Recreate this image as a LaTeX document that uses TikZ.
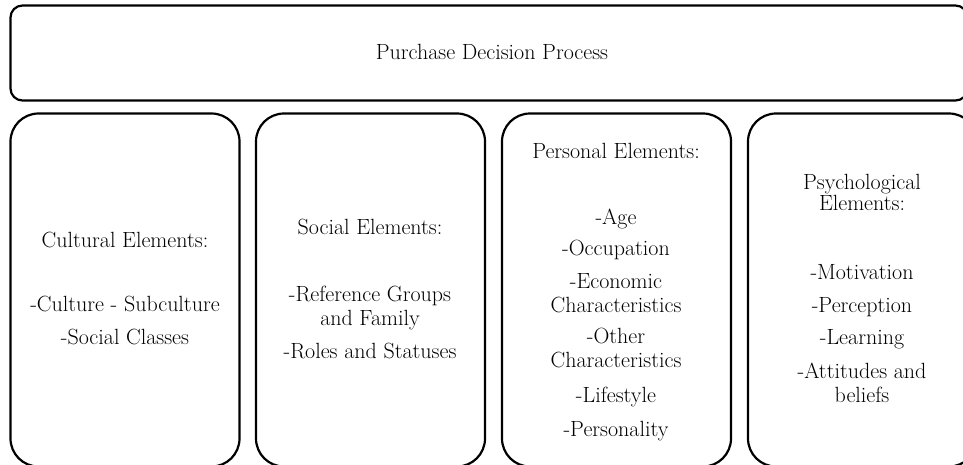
\documentclass[tikz,border=0pt]{standalone}
\usepackage{tikz}

\tikzset{
  mainbox/.style = {draw, line width=2.2pt, rounded corners=12pt, minimum width=957pt, minimum height=95pt, inner sep=0pt},
  elembox/.style = {draw, line width=2.2pt, rounded corners=28pt, minimum width=229pt, minimum height=353pt, inner sep=0pt},
  elemtext/.style = {inner sep=0pt, text height=15pt, text depth=5pt, font=\fontsize{22}{25}\selectfont}
}

\begin{document}
\begin{tikzpicture}[x=1pt, y=-1pt]
        \useasboundingbox (0,0) rectangle (963,464);
        % top box
        \node[mainbox] (process) at (489,53) {};
        \node[elemtext] (processtxt) at (492,54) {Purchase Decision Process};
        % four element boxes
        \node[elembox] (cultural) at (125,290) {};
        \node[elembox] (social) at (370.5,290) {};
        \node[elembox] (personal) at (616.5,290) {};
        \node[elembox] (psych) at (862.5,290) {};
        % cultural
        \node[elemtext] (cul1) at (125,242) {Cultural Elements:};
        \node[elemtext] (cul2) at (125,306) {-Culture - Subculture};
        \node[elemtext] (cul3) at (125,339) {-Social Classes};
        % social
        \node[elemtext] (soc1) at (370,229) {Social Elements:};
        \node[elemtext] (soc2) at (370,296) {-Reference Groups};
        \node[elemtext] (soc3) at (370,320) {and Family};
        \node[elemtext] (soc4) at (370,353) {-Roles and Statuses};
        % personal
        \node[elemtext] (per1) at (616,153) {Personal Elements:};
        \node[elemtext] (per2) at (616,219) {-Age};
        \node[elemtext] (per3) at (616,250) {-Occupation};
        \node[elemtext] (per4) at (616,283) {-Economic};
        \node[elemtext] (per5) at (616,307) {Characteristics};
        \node[elemtext] (per6) at (616,338) {-Other};
        \node[elemtext] (per7) at (616,362) {Characteristics};
        \node[elemtext] (per8) at (616,397) {-Lifestyle};
        \node[elemtext] (per9) at (616,431) {-Personality};
        % psychological
        \node[elemtext] (psy1) at (862,184) {Psychological};
        \node[elemtext] (psy2) at (862,205) {Elements:};
        \node[elemtext] (psy3) at (862,274) {-Motivation};
        \node[elemtext] (psy4) at (862,307) {-Perception};
        \node[elemtext] (psy5) at (862,339) {-Learning};
        \node[elemtext] (psy6) at (862,373) {-Attitudes and};
        \node[elemtext] (psy7) at (862,397) {beliefs};
\end{tikzpicture}
\end{document}
